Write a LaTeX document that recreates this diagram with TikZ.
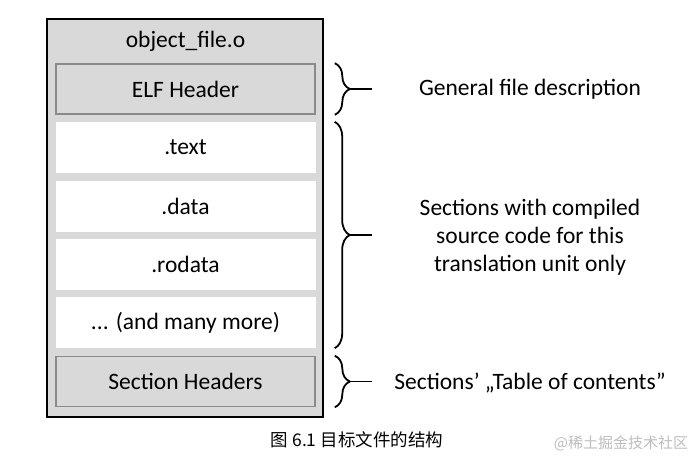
\documentclass[tikz,border=0pt]{standalone}
\usepackage{fontspec}
\setmainfont{Carlito}
\newfontfamily\cjk{Noto Sans CJK SC}
\usetikzlibrary{decorations.pathreplacing,positioning}
\definecolor{boxgray}{HTML}{D9D9D9}
\definecolor{edgegray}{HTML}{8A8A8A}
\definecolor{markgray}{HTML}{BDBDBD}

\begin{document}
\begin{tikzpicture}[x=1pt,y=-1pt,
	font=\fontsize{23.5}{28}\selectfont,
	part/.style={minimum width=260pt,minimum height=51pt,inner sep=0pt},
	greypart/.style={part,fill=boxgray,draw=edgegray,line width=1.6pt,minimum width=259pt,minimum height=50pt},
	whitepart/.style={part,fill=white},
	bracket/.style={decorate,decoration={brace,amplitude=15pt},line width=1.8pt},
	note/.style={align=center}]
	\useasboundingbox (0,0) rectangle (690,458);

	% the object file
	\node[draw,line width=1.8pt,fill=boxgray,minimum width=276pt,minimum height=398pt,inner sep=0pt] (file) at (185,218) {};
	\node (name) at (185.5,41) {object\_file.o};
	\node[greypart] (elf) at (185.5,89) {ELF Header};
	\foreach \y/\n/\t in {147.5/text/.text, 206/data/.data, 264/rodata/.rodata, 322.5/more/{... (and many more)}} {
		\node[whitepart] (\n) at (185.5,\y) {\t};
	}
	\node[greypart] (sh) at (185.5,381.5) {Section Headers};

	% braces
	\draw[bracket] (elf.north east) ++(19,0) coordinate (a1) -- (a1 |- elf.south) coordinate (a2);
	\draw[bracket] (text.north east) ++(19,0) coordinate (b1) -- (b1 |- more.south) coordinate (b2);
	\draw[bracket] (sh.north east) ++(19,0) coordinate (c1) -- (c1 |- sh.south) coordinate (c2);
	\draw[line width=1.8pt] (350,89) coordinate (atip) -- ++(22,0);
	\draw[line width=1.8pt] (350,235) coordinate (btip) -- ++(22,0);
	\draw[line width=1.8pt] (350,381.5) coordinate (ctip) -- ++(22,0);

	% descriptions
	\node[note] (gen) at (530,89) {General file description};
	\node[note] (sec) at (530,237) {Sections with compiled\\source code for this\\translation unit only};
	\node[note] (toc) at (530,383) {Sections’ „Table of contents”};

	\node[font=\cjk\fontsize{17.5}{20}\selectfont] (cap) at (357,440) {图 6.1 目标文件的结构};
	\node[font=\cjk\fontsize{15}{18}\selectfont,text=markgray] (mark) at (621,443) {@稀土掘金技术社区};
\end{tikzpicture}
\end{document}
